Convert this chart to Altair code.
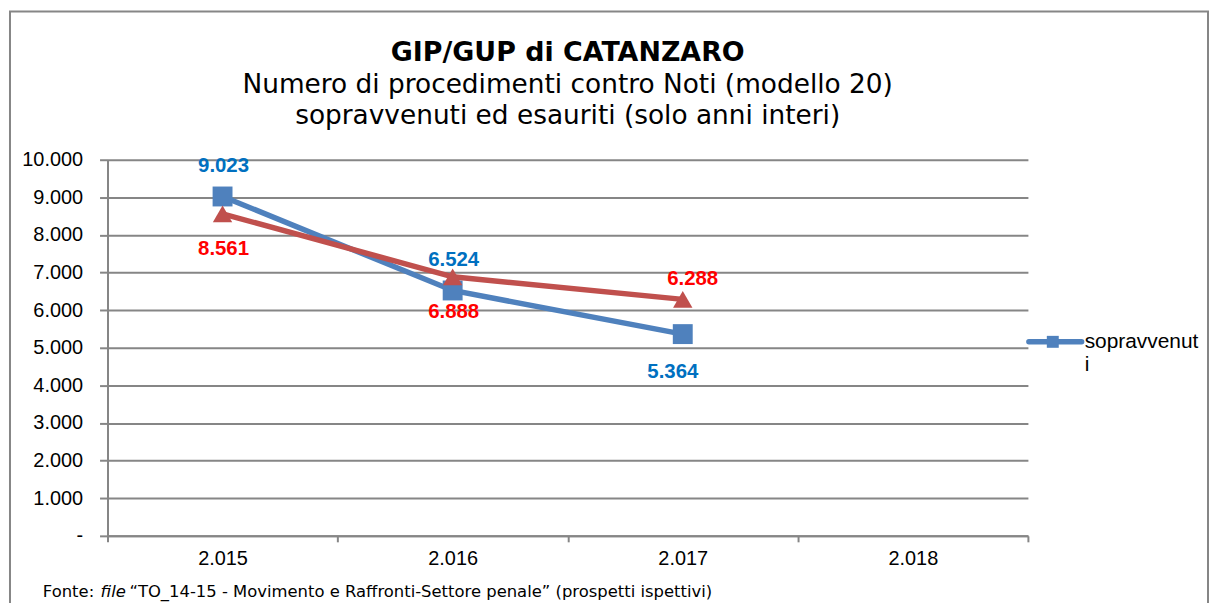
import altair as alt
import pandas as pd

# ---------------- data ----------------
years = ["2.015", "2.016", "2.017", "2.018"]
data_years = ["2.015", "2.016", "2.017"]
sopravvenuti = [9023, 6524, 5364]
esauriti = [8561, 6888, 6288]
y_ticks = [0, 1000, 2000, 3000, 4000, 5000, 6000, 7000, 8000, 9000, 10000]

title_text = "GIP/GUP di CATANZARO"
subtitle_lines = [
    "Numero di procedimenti contro Noti (modello 20)",
    "sopravvenuti ed esauriti (solo anni interi)",
]
legend_lines = ["sopravvenut", "i"]
footer_parts = [
    "Fonte:",
    "file",
    "\u201cTO_14-15 - Movimento e Raffronti-Settore penale\u201d (prospetti ispettivi)",
]

# ---------------- styles ----------------
BLUE = "#4F81BD"
RED = "#C0504D"
BLUE_LBL = "#0070C0"
RED_LBL = "#FF0000"
GRID = "#868686"

rows = []
for a, v in zip(data_years, sopravvenuti):
    rows.append({"anno": a, "valore": v, "serie": "sopravvenuti"})
for a, v in zip(data_years, esauriti):
    rows.append({"anno": a, "valore": v, "serie": "esauriti"})
df = pd.DataFrame(rows)
df["etichetta"] = df["valore"].map(lambda v: f"{v:,}".replace(",", "."))

dummy = pd.DataFrame({"k": [0]})

x_enc = alt.X(
    "anno:N",
    sort=years,
    scale=alt.Scale(type="band", domain=years, paddingInner=0, paddingOuter=0),
    axis=alt.Axis(
        title=None,
        tickBand="extent",
        labelAngle=0,
        grid=False,
        tickSize=6,
        labelPadding=7,
    ),
)
y_enc = alt.Y(
    "valore:Q",
    scale=alt.Scale(domain=[0, 10000], nice=False),
    axis=alt.Axis(
        title=None,
        values=y_ticks,
        grid=True,
        tickSize=8,
        labelPadding=17,
        labelExpr="datum.value == 0 ? '-' : replace(format(datum.value, ',.0f'), ',', '.')",
    ),
)

base = alt.Chart(df)


def series(name):
    return base.transform_filter(alt.FieldEqualPredicate(field="serie", equal=name))


blue_line = series("sopravvenuti").mark_line(color=BLUE, strokeWidth=5.5).encode(x=x_enc, y=y_enc)
blue_pts = series("sopravvenuti").mark_point(
    shape="square", filled=True, size=400, color=BLUE, opacity=1
).encode(x=x_enc, y=y_enc)
red_line = series("esauriti").mark_line(color=RED, strokeWidth=5.5).encode(x=x_enc, y=y_enc)
red_pts = series("esauriti").mark_point(
    shape="triangle-up", filled=True, size=380, color=RED, opacity=1
).encode(x=x_enc, y=y_enc)


def label(name, anni, dy, dx, color):
    return (
        series(name)
        .transform_filter(alt.FieldOneOfPredicate(field="anno", oneOf=anni))
        .mark_text(
            font="Liberation Sans",
            fontSize=20.5,
            fontWeight="bold",
            color=color,
            dy=dy,
            dx=dx,
            baseline="middle",
        )
        .encode(x=x_enc, y=y_enc, text="etichetta:N")
    )


labels = [
    label("sopravvenuti", ["2.015", "2.016"], -31, 1, BLUE_LBL),
    label("sopravvenuti", ["2.017"], 38, -10, BLUE_LBL),
    label("esauriti", ["2.015", "2.016"], 35, 1, RED_LBL),
    label("esauriti", ["2.017"], -20, 10, RED_LBL),
]

dec = alt.Chart(dummy)
border = dec.mark_rect(fillOpacity=0, stroke=GRID, strokeWidth=2).encode(
    x=alt.value(-98), x2=alt.value(1106), y=alt.value(-149), y2=alt.value(1000)
)
leg_rule = dec.mark_rule(color=BLUE, strokeWidth=5.5, strokeCap="round").encode(
    x=alt.value(926), x2=alt.value(979), y=alt.value(183)
)
leg_sq = dec.mark_point(shape="square", filled=True, size=144, color=BLUE, opacity=1).encode(
    x=alt.value(950), y=alt.value(183)
)
leg_kw = dict(align="left", baseline="middle", font="Liberation Sans", fontSize=21, color="black")
leg_t1 = dec.mark_text(**leg_kw).encode(x=alt.value(982), y=alt.value(183), text=alt.value(legend_lines[0]))
leg_t2 = dec.mark_text(**leg_kw).encode(x=alt.value(982), y=alt.value(206), text=alt.value(legend_lines[1]))

foot_kw = dict(align="left", baseline="alphabetic", font="DejaVu Sans", fontSize=16.5, color="black")
foot1 = dec.mark_text(**foot_kw).encode(x=alt.value(-65), y=alt.value(439), text=alt.value(footer_parts[0]))
foot2 = dec.mark_text(fontStyle="italic", **foot_kw).encode(
    x=alt.value(-7), y=alt.value(439), text=alt.value(footer_parts[1])
)
foot3 = dec.mark_text(**foot_kw).encode(x=alt.value(22), y=alt.value(439), text=alt.value(footer_parts[2]))

chart = (
    alt.layer(
        border,
        blue_line,
        blue_pts,
        red_line,
        red_pts,
        *labels,
        leg_rule,
        leg_sq,
        leg_t1,
        leg_t2,
        foot1,
        foot2,
        foot3,
    )
    .properties(
        width=925,
        height=378,
        padding={"left": 100, "top": 151, "right": 183, "bottom": 68},
        autosize=alt.AutoSizeParams(type="none"),
        background="white",
        title=alt.Title(
            text=title_text,
            subtitle=subtitle_lines,
            font="DejaVu Sans",
            fontSize=27,
            fontWeight="bold",
            color="black",
            subtitleFont="DejaVu Sans",
            subtitleFontSize=26.5,
            subtitleColor="black",
            subtitleLineHeight=32,
            subtitlePadding=5,
            anchor="middle",
            frame="group",
            offset=0,
            dy=121,
        ),
    )
    .configure_view(stroke=None)
    .configure_axis(
        labelFont="Liberation Sans",
        labelFontSize=20,
        labelColor="black",
        domainColor=GRID,
        domainWidth=2,
        tickColor=GRID,
        tickWidth=2,
        gridColor=GRID,
        gridWidth=2,
    )
)

chart.save("out.html", embed_options={"renderer": "svg", "actions": False})
